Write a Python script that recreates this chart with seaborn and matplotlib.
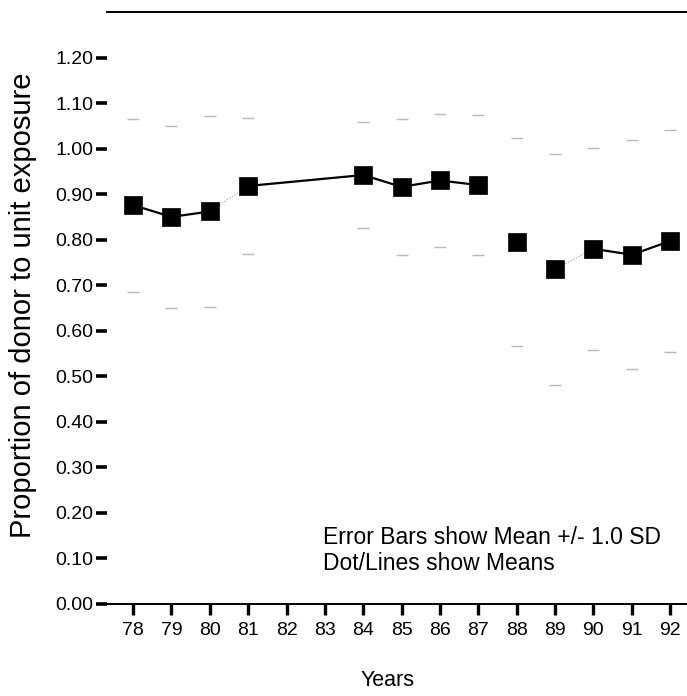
import matplotlib
matplotlib.use("Agg")
import matplotlib.pyplot as plt
import seaborn as sns
import pandas as pd

# Annual means and standard deviations of donor-to-unit exposure proportion
years = [78, 79, 80, 81, 84, 85, 86, 87, 88, 89, 90, 91, 92]
means = [0.876, 0.850, 0.862, 0.918, 0.942, 0.916, 0.930, 0.920, 0.795, 0.735, 0.780, 0.767, 0.797]
sds = [0.190, 0.200, 0.210, 0.150, 0.116, 0.150, 0.147, 0.154, 0.229, 0.254, 0.222, 0.251, 0.243]
# connected runs of the mean line
segments = ["a", "a", "a", "b", "b", "b", "b", "b", "c", "d", "e", "e", "e"]
tick_years = list(range(78, 93))
y_ticks = [0.0, 0.1, 0.2, 0.3, 0.4, 0.5, 0.6, 0.7, 0.8, 0.9, 1.0, 1.1, 1.2]

df = pd.DataFrame({"year": years, "mean": means, "sd": sds, "seg": segments})

sns.set_style("white", {"text.color": "black", "axes.labelcolor": "black",
                        "xtick.color": "black", "ytick.color": "black"})
plt.rcParams["font.family"] = ["Liberation Sans", "DejaVu Sans"]

fig = plt.figure(figsize=(6.87, 6.96), dpi=100)
ax = fig.add_axes([107 / 687, 92 / 696, 1 - 107 / 687, 592 / 696])

# faint SD caps
ax.errorbar(df["year"], df["mean"], yerr=df["sd"], fmt="none", ecolor="#b8b8b8",
            elinewidth=0, capsize=4, capthick=1.0, zorder=1)

# faint joins between runs
for pair in ([80, 81], [89, 90]):
    sub = df[df["year"].isin(pair)]
    sns.lineplot(data=sub, x="year", y="mean", ax=ax, color="#9a9a9a", lw=0.8,
                 linestyle=":", estimator=None, legend=False, zorder=2)

sns.lineplot(data=df, x="year", y="mean", units="seg", estimator=None, ax=ax,
             color="black", lw=1.6, legend=False, zorder=3)
sns.scatterplot(data=df, x="year", y="mean", ax=ax, marker="s", s=150,
                color="black", edgecolor="black", linewidth=0.5, zorder=4, legend=False)

ax.set_xlim(77.32, 92.44)
ax.set_ylim(0, 1.30)
ax.set_xticks(tick_years)
ax.set_xticklabels([str(y) for y in tick_years], fontsize=14, color="black")
ax.set_yticks(y_ticks)
ax.set_yticklabels([f"{v:.2f}" for v in y_ticks], fontsize=14, color="black")

for side in ["left", "right"]:
    ax.spines[side].set_visible(False)
for side in ["top", "bottom"]:
    ax.spines[side].set_linewidth(1.4)
    ax.spines[side].set_color("black")

ax.tick_params(axis="y", which="major", left=True, length=8, width=2.6, pad=2, color="black")
ax.tick_params(axis="x", which="major", bottom=True, length=8, width=2.4, pad=5, color="black")

ax.set_xlabel("Years", fontsize=15.5, color="black")
ax.xaxis.set_label_coords(0.484, -0.112)
ax.set_ylabel("Proportion of donor to unit exposure", fontsize=21, color="black")
ax.yaxis.set_label_coords(-0.12, 0.505)

fig.text(323 / 687, 1 - 538 / 696, "Error Bars show Mean +/- 1.0 SD", fontsize=16.5,
         va="center", color="black")
fig.text(323 / 687, 1 - 564 / 696, "Dot/Lines show Means", fontsize=16.5,
         va="center", color="black")

fig.savefig("out.png", dpi=100)
